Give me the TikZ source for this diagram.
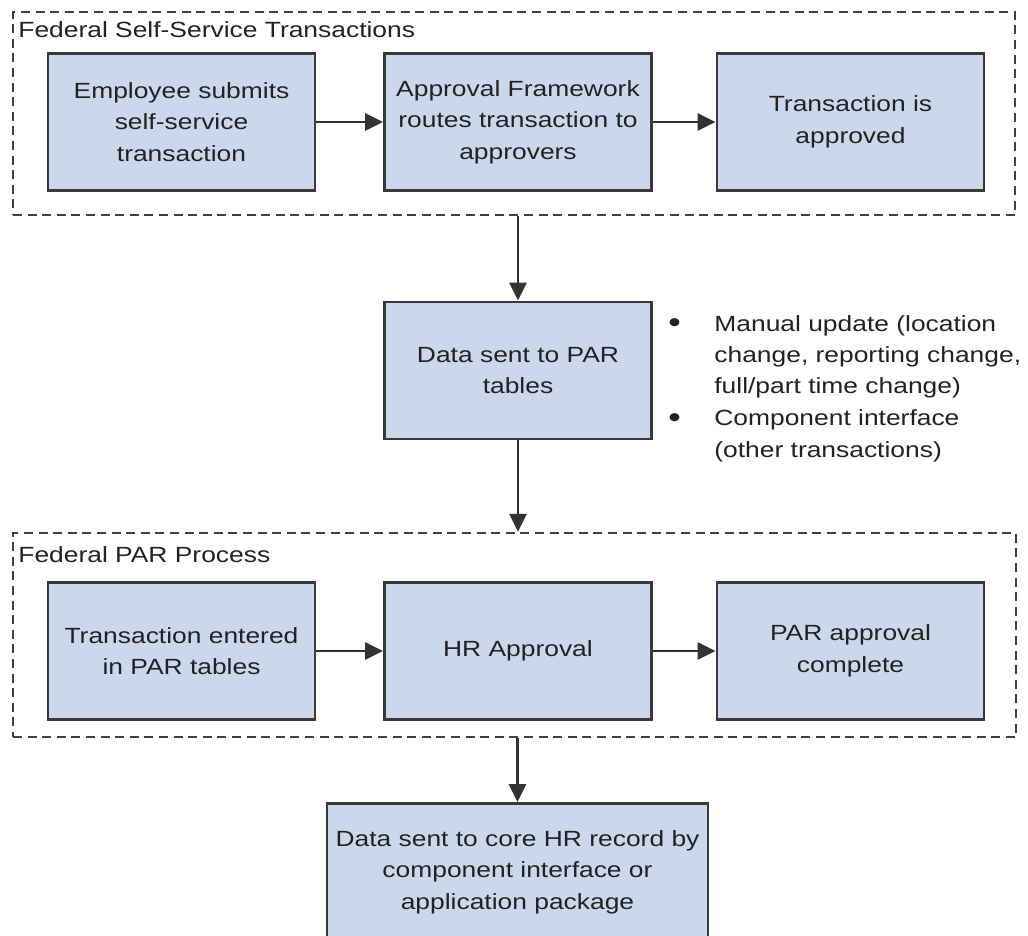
\documentclass[tikz,border=0pt]{standalone}
\usepackage{fontspec}
\setmainfont[FakeStretch=1.2]{Liberation Sans}
\usepackage{tikz}
\usetikzlibrary{arrows.meta,positioning}
\usepackage{xcolor}
\definecolor{boxfill}{HTML}{CBD8EC}
\definecolor{boxline}{HTML}{3A3A3A}
\definecolor{textgray}{HTML}{222222}
\definecolor{framegray}{HTML}{404040}
\definecolor{arrowgray}{HTML}{333333}

\tikzset{
  stepbox/.style={draw=boxline,line width=1.4pt,fill=boxfill,text=textgray,align=center,
    minimum width=133.5pt,minimum height=68.5pt,inner sep=2pt},
  groupframe/.style={draw=framegray,line width=1.2pt,dash pattern=on 4.5pt off 2.8pt},
  grouplabel/.style={anchor=base west,inner sep=0pt,text=textgray},
  flow/.style={->,draw=arrowgray,line width=1.3pt}
}
\newcommand{\notebullet}{\makebox[23pt][l]{\raisebox{-0.9pt}{\scalebox{1.35}{\textbullet}}}}

\begin{document}
\begin{tikzpicture}[>={Triangle[length=9pt,width=8.5pt]},x=0.5pt,y=-0.5pt,
    font=\fontsize{11}{15.75}\selectfont]
  \useasboundingbox (0,0) rectangle (1028,936);
  \clip (0,0) rectangle (1028,936);
  % dashed groups
  \node[groupframe,minimum width=501pt,minimum height=101.5pt] (selfsvc) at (514,113.5) {};
  \node[grouplabel] (selfsvclbl) at (18,38) {Federal Self-Service Transactions};
  \node[groupframe,minimum width=501.5pt,minimum height=102pt] (parproc) at (514.5,635) {};
  \node[grouplabel] (parproclbl) at (18,562) {Federal PAR Process};
  % steps
  \node[stepbox] (submit) at (181.5,122) {Employee submits\\self-service\\transaction};
  \node[stepbox] (route) at (518,122) {Approval Framework\\routes transaction to\\approvers};
  \node[stepbox] (approved) at (850.5,122) {Transaction is\\approved};
  \node[stepbox] (parsent) at (518,370.5) {Data sent to PAR\\tables};
  \node[stepbox] (entered) at (181.5,651) {Transaction entered\\in PAR tables};
  \node[stepbox] (hrappr) at (518,651) {HR Approval};
  \node[stepbox] (pardone) at (850.5,651) {PAR approval\\complete};
  \node[stepbox,minimum width=190.5pt] (corehr) at (517.5,872)
    {Data sent to core HR record by\\component interface or\\application package};
  \node[anchor=base west,align=left,inner sep=0pt,text=textgray] (notes) at (668,457)
    {\notebullet Manual update (location\\
     \hspace*{23pt}change, reporting change,\\
     \hspace*{23pt}full/part time change)\\
     \notebullet Component interface\\
     \hspace*{23pt}(other transactions)};
  % connectors
  \draw[flow] (submit) -- (route);
  \draw[flow] (route) -- (approved);
  \draw[flow] (parsent.north |- selfsvc.south) -- (parsent);
  \draw[flow] (parsent) -- (parsent.south |- parproc.north);
  \draw[flow] (entered) -- (hrappr);
  \draw[flow] (hrappr) -- (pardone);
  \draw[flow] (corehr.north |- parproc.south) -- (corehr);
\end{tikzpicture}
\end{document}
